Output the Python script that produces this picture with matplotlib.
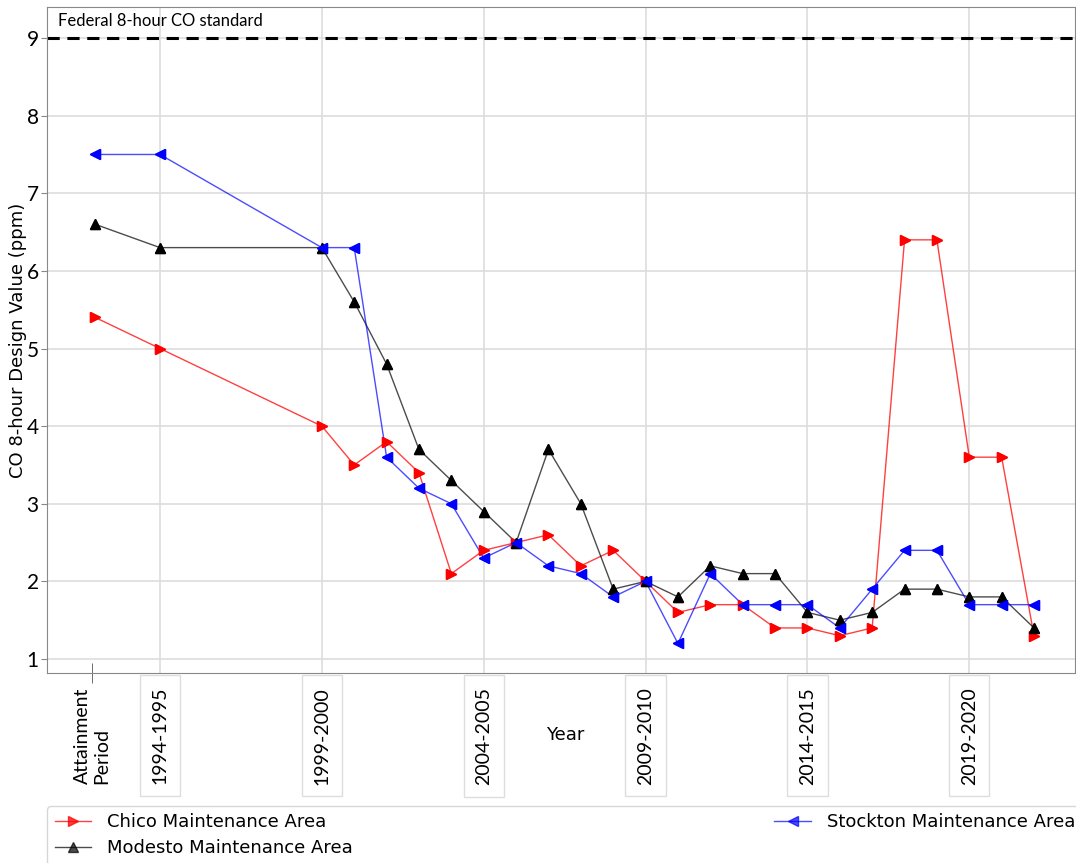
import matplotlib.pyplot as plt

# Data (design values, ppm)
years = [1993, 1995, 2000, 2001, 2002, 2003, 2004, 2005, 2006, 2007, 2008, 2009,
         2010, 2011, 2012, 2013, 2014, 2015, 2016, 2017, 2018, 2019, 2020, 2021, 2022]
chico = [5.4, 5.0, 4.0, 3.5, 3.8, 3.4, 2.1, 2.4, 2.5, 2.6, 2.2, 2.4,
         2.0, 1.6, 1.7, 1.7, 1.4, 1.4, 1.3, 1.4, 6.4, 6.4, 3.6, 3.6, 1.3]
modesto = [6.6, 6.3, 6.3, 5.6, 4.8, 3.7, 3.3, 2.9, 2.5, 3.7, 3.0, 1.9,
           2.0, 1.8, 2.2, 2.1, 2.1, 1.6, 1.5, 1.6, 1.9, 1.9, 1.8, 1.8, 1.4]
stockton = [7.5, 7.5, 6.3, 6.3, 3.6, 3.2, 3.0, 2.3, 2.5, 2.2, 2.1, 1.8,
            2.0, 1.2, 2.1, 1.7, 1.7, 1.7, 1.4, 1.9, 2.4, 2.4, 1.7, 1.7, 1.7]

tick_years = [1995, 2000, 2005, 2010, 2015, 2020]
tick_labels = ['1994-1995', '1999-2000', '2004-2005', '2009-2010', '2014-2015', '2019-2020']
standard = 9

fig = plt.figure(figsize=(10.76, 8.63), dpi=100)
ax = fig.add_axes([0.0437, 0.2202, 0.9555, 0.7717])

ax.plot(years, chico, color='red', marker='>', markersize=7, lw=1, alpha=0.75,
        label='Chico Maintenance Area')
ax.plot(years, modesto, color='black', marker='^', markersize=7, lw=1, alpha=0.7,
        label='Modesto Maintenance Area')
ax.plot(years, stockton, color='blue', marker='<', markersize=7, lw=1, alpha=0.7,
        label='Stockton Maintenance Area')

# Replot markers fully opaque
ax.plot(years, chico, ls='none', color='red', marker='>', markersize=7)
ax.plot(years, modesto, ls='none', color='black', marker='^', markersize=7)
ax.plot(years, stockton, ls='none', color='blue', marker='<', markersize=7)

# Federal standard
ax.axhline(standard, color='black', ls=(0, (4, 2.5)), lw=2.2)
ax.text(1991.85, 9.22, 'Federal 8-hour CO standard', fontsize=12, family='Lato', va='center')

ax.set_xlim(1991.51, 2023.27)
ax.set_ylim(0.82, 9.40)
ax.set_yticks(range(1, 10))
ax.tick_params(axis='y', labelsize=15, length=4, color='#888888', pad=2)
for lab in ax.get_yticklabels():
    lab.set_family('Lato')

ax.set_xticks(tick_years)
ax.set_xticklabels(tick_labels, rotation=90, fontsize=14, family='Lato',
                   bbox=dict(boxstyle='square,pad=0.6', fc='white', ec='#dddddd', lw=1))
ax.tick_params(axis='x', which='major', length=0, pad=10)
ax.set_xticks([1992.9], minor=True)
ax.set_xticklabels(['Attainment\nPeriod'], minor=True, rotation=90, fontsize=14,
                   family='Lato', multialignment='left')
ax.tick_params(axis='x', which='minor', direction='inout', length=15, color='#555555', pad=3)

ax.grid(True, color='#dddddd', lw=1.2)
ax.grid(False, axis='x', which='minor')
ax.set_axisbelow(True)
for s in ax.spines.values():
    s.set_color('#888888')

ax.set_ylabel('CO 8-hour Design Value (ppm)', fontsize=13)
ax.yaxis.set_label_coords(-0.0195, 0.5)
ax.set_xlabel('Year', fontsize=13)
ax.xaxis.set_label_coords(0.504, -0.08)

fig.legend(loc='upper left', bbox_to_anchor=(0.044, 0.0, 0.962, 0.066), mode='expand',
           ncol=2, fontsize=13, frameon=True, edgecolor='#cccccc', borderaxespad=0,
           handlelength=2.0, handletextpad=0.9, labelspacing=0.45)

fig.savefig('out.png', dpi=100)
